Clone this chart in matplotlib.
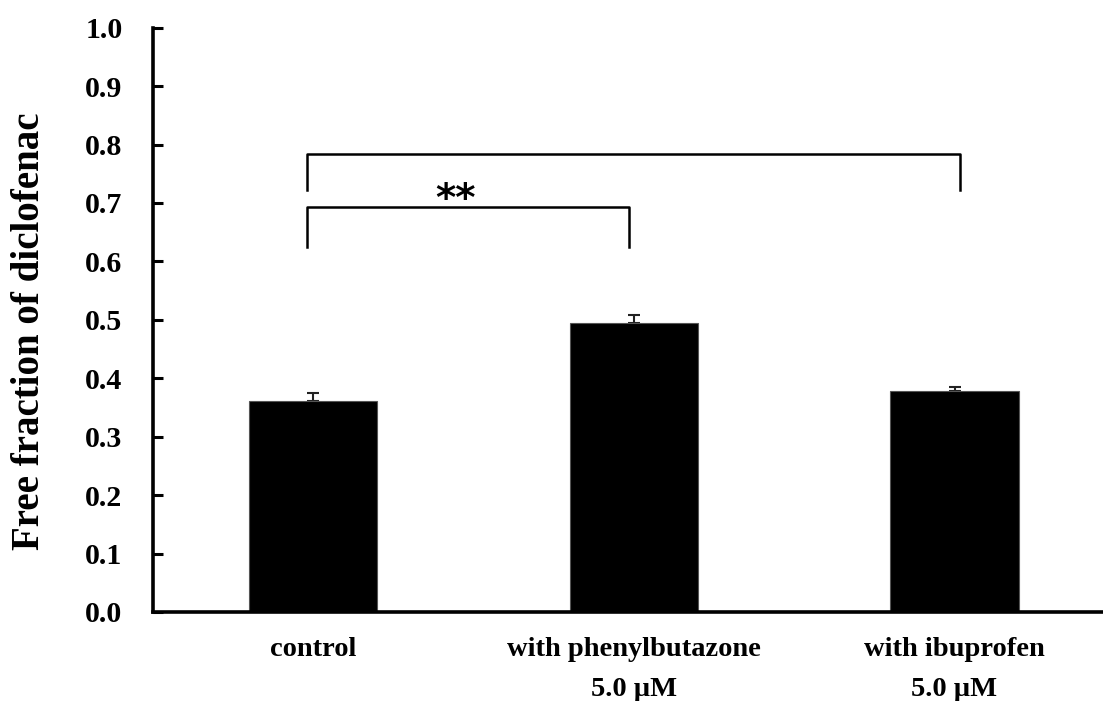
import matplotlib
matplotlib.use("Agg")
import matplotlib.pyplot as plt
import numpy as np

categories = ["control", "with phenylbutazone\n5.0 \u00b5M", "with ibuprofen\n5.0 \u00b5M"]
values = [0.361, 0.495, 0.378]
errors = [0.013, 0.013, 0.007]
yticks = [0.0, 0.1, 0.2, 0.3, 0.4, 0.5, 0.6, 0.7, 0.8, 0.9, 1.0]

plt.rcParams['font.family'] = ['Liberation Serif', 'DejaVu Serif']
plt.rcParams['font.weight'] = 'bold'

fig = plt.figure(figsize=(11.03, 7.01), dpi=100)
ax = fig.add_axes([0.1387, 0.127, 0.8613, 0.8335])

x = np.arange(len(categories))
ax.bar(x, values, width=0.40, color='black', edgecolor='#555555', linewidth=0.8, zorder=2)
ax.errorbar(x, values, yerr=[np.zeros(len(values)), errors], fmt='none',
            ecolor='#222222', elinewidth=1.5, capsize=4, capthick=1.5, zorder=1)

ax.set_xlim(-0.5, 2.463)
ax.set_ylim(0, 1.0)
ax.set_yticks(yticks)
ax.set_yticklabels([f"{t:.1f}" for t in yticks], fontsize=21.5, fontweight='bold')
ax.set_xticks(x)
ax.set_xticklabels(categories, fontsize=20.5, fontweight='bold', linespacing=1.8)
ax.tick_params(axis='x', length=0, pad=18)
ax.tick_params(axis='y', direction='in', length=7, width=2.2, pad=22)
for s in ['top', 'right']:
    ax.spines[s].set_visible(False)
for s in ['left', 'bottom']:
    ax.spines[s].set_linewidth(2.6)

ax.set_ylabel("Free fraction of diclofenac", fontsize=28, fontweight='bold')
ax.yaxis.set_label_coords(-0.111, 0.481)

# significance brackets
lw = 1.8
ax.plot([-0.02, -0.02, 2.017, 2.017], [0.722, 0.783, 0.783, 0.722], color='black', lw=lw, clip_on=False)
ax.plot([-0.02, -0.02, 0.986, 0.986], [0.625, 0.693, 0.693, 0.625], color='black', lw=lw, clip_on=False)
ax.text(0.443, 0.705, "**", ha='center', va='center', fontsize=28, fontweight='bold',
        family=['DejaVu Sans'])

fig.savefig("out.png", dpi=100)
